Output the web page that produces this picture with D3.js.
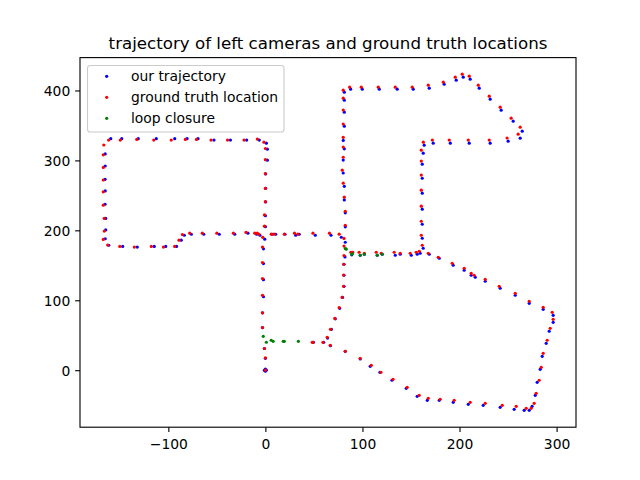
<!DOCTYPE html>
<html>
<head>
<meta charset="utf-8">
<script src="https://cdn.jsdelivr.net/npm/d3@7"></script>
<style>
  html, body { margin: 0; padding: 0; background: #fff; }
  svg { display: block; }
  text { font-family: "DejaVu Sans", sans-serif; fill: #000; }
</style>
</head>
<body>
<svg id="chart" width="640" height="480"></svg>
<script>
// ---------------- data ----------------
const titleText = "trajectory of left cameras and ground truth locations";
const seriesNames = ["our trajectory", "ground truth location", "loop closure"];
const seriesColors = ["#0000ff", "#ff0000", "#008000"];
const xTicks = [-100, 0, 100, 200, 300];
const yTicks = [0, 100, 200, 300, 400];

// our trajectory (blue)
const trajectory = [
  [0,0],[1,0],[-1,0],[0,1.4],[0,-1.4],[0,17],[-1,31],[-3,61],[-3,82],[-2,105],[-2,129.5],[-2,152.4],[-2,173.5],
  [0,205.3],[0,221],[0.2,240.6],[0.2,260.2],[0.2,280.7],[2,300.3],[2,316],[1,324.6],[-6.3,329],
  [-19.3,329],[-36,329],[-53,329],[-69.4,331],[-80.7,331],[-93.4,331],[-112.4,331],[-131,331],[-148,331],[-159.3,331],
  [-165,309.3],[-165,292],[-165.2,273],[-165,256.4],[-165.2,237.3],[-164.5,217],[-164.5,200.6],[-165,188],[-161.4,178.7],
  [-147,177],[-132,176],[-114.5,177],[-102.7,177],[-91.5,177],[-86.7,186],[-83.5,193],[-76.3,194.4],[-63.5,194.4],
  [-47.5,194.4],[-31.6,194.4],[-18,196],[-9,194.4],[-5.6,193],[-0.7,187.3],
  [7.1,194.4],[10.6,194.4],[20.2,194.4],[31.2,193],[34.9,194.4],[51.4,193],[67.6,193],[78.2,190.1],[82.3,183],[82,162],
  [81,151.5],[81,135.8],[81,120],[79.5,104],[76.5,88.5],[72,73.5],[68,58.5],[64,46],[67,35],[60,39.9],[49.5,39.9],
  [81.3,397.6],[81.3,386.1],[81.3,369],[81.3,349],[80.2,328.5],[81.3,316.5],[80.2,300.5],[80.2,282],[81.3,263],
  [81.3,243.5],[82.3,225],[82.3,205],
  [87.8,401.9],[99.8,401.9],[117.3,401.9],[135.8,401.9],[152.3,401.9],[168.8,403.3],[184.2,409],[196.6,414.7],
  [203.8,419],[211,416.1],[220.3,403.3],[231.6,387.5],[242.9,371.8],[255.3,356.1],[264.6,341.8],[262.5,331.8],
  [250.1,327.5],[231.6,324.6],[210,324.6],[190.5,324.6],[172.9,324.6],[163.6,321.8],
  [162.6,310.3],[161.6,294.6],[161.6,274.5],[161.6,253.1],[161.6,230.2],[161.6,208.7],[161.6,188.7],[162.6,174.4],
  [89,165],[97.7,164.4],[102,165.8],[115.2,164.4],[120.4,165.8],
  [133.8,164.4],[138.9,165.8],[150.3,164.4],[156.4,165.8],[159.5,167.2],[168.8,165.8],[179.1,160.1],[193.5,150.1],
  [204.8,142.9],[212,135.8],[216.2,132.9],[226.5,127.2],[241.9,117.2],[257.4,107.2],[271.8,95.7],[286.2,87.1],
  [296.5,78.5],[296.5,68.5],[292.4,55.7],[289.3,38.5],[285.2,19.9],[283.1,1.3],[280,-17.3],[278,-35.9],[274.8,-51.6],
  [271.8,-57.4],[266.6,-57.4],[256.3,-55.9],[241.9,-53.1],[224.4,-50.2],[209,-48.8],[193.5,-45.9],[179.1,-43.1],
  [166.8,-43.1],[156.4,-37.3],[145.1,-25.9],[130.4,-14.4],[118,-3],[108,5.6],[97.7,16],[82.3,27]
];

// ground truth location (red)
const groundTruth = [
  [0,0],[0,17.5],[-1,31],[-3,61],[-3,82],[-3,107],[-3,131],[-3,154],[-3,176],[-1,206],[-1,222],[0,241],[0,260],
  [0,281],[0,301],[0,317],[-1.5,326],[-8.3,330.5],
  [-22,329],[-39,329],[-56,329],[-71,330],[-82.5,330],[-97,329],[-115,329],[-132.5,330],[-149.5,329],[-161.5,329],
  [-166.5,322],[-167,308],[-167,290],[-167,272],[-167,255],[-167,236],[-166,217],[-166,199],[-167,187],[-162.5,179],
  [-150,177],[-135,176],[-117.5,177],[-105,176],[-93.5,177],[-89,186],[-85.5,194],[-78,196],[-65,196],[-50,196],
  [-33,196],[-20,197],[-11,196],[-8.3,196],[-6.6,194.4],[-2.8,190],
  [6,194.5],[9,194.5],[19.5,194.5],[30,196],[33.5,194.5],[49,196],[66,196],[76,194.5],[81,188.5],[81,177.5],[81,164],
  [80.6,151.5],[80.6,136],[80.6,120],[79,104],[76,89.5],[71.5,74],[67,58.5],[63.7,47],[66.8,35.6],[59.3,39.9],
  [49,39.9],[48.3,39.9],
  [80.2,400.4],[80.2,389],[80.2,372],[80.2,352],[80.2,333],[80.2,319],[80.2,304.5],[79.2,286],[80.2,267.5],
  [81.3,247.4],[82.3,227.3],[82.3,207.3],
  [86.8,404.7],[98.8,404.7],[116.3,404.7],[133.8,404.7],[151.3,404.7],[167.8,407.6],[183.3,411.9],[195.6,419],
  [202.8,423.3],[210,420.4],[219.3,407.6],[230.6,391.8],[241.9,376.1],[253.2,360.4],[262.5,347.5],[260.4,337.5],
  [249,332],[230.6,329],[209,329],[189.4,329],[172,329],[162.7,326],
  [160.6,314.6],[160.6,299],[160.6,279],[160.6,257.4],[160.6,234.5],[160.6,213],[160.6,193],[161.6,178.7],
  [88,168.7],[90,168.7],[96.5,168.7],[102,167.2],[114.2,168.7],[119.4,167.2],[132.7,168.7],[138.9,167.2],
  [149.2,167.2],[155.4,168.7],[158.6,170.1],[167.8,167.2],[178.1,161.5],[192.5,152.9],[204.8,145.8],[212,138.6],
  [215.1,135.8],[226.5,130],[240.9,120],[257.4,110],[271.8,98.6],[286.2,90],[295.5,82.8],[296.5,72.8],[293.4,59.9],
  [290.3,42.8],[286.2,24.2],[284.2,4.1],[282.1,-14.4],[279,-33],[276.9,-47.4],[273.8,-54.5],[268.7,-54.5],
  [258.4,-51.6],[244,-50.2],[226.5,-47.4],[211,-45.9],[194.5,-43.1],[180.1,-41.6],[167.8,-40.2],[158.5,-35.9],
  [146.1,-24.5],[131.5,-13],[119,-3],[109.1,7],[97.7,17],[82.3,27]
];

// loop closure (green)
const loopClosure = [
  [-2.2,48.5],[1,40],[6,42.8],[8,41.3],[18.4,41.3],[19.5,41.3],[34,41.3],
  [82.3,174],[83.3,173],[89,165.8],[89.6,166.7],[97.7,164.4],[102,165.8],[115.2,164.4],[120.4,165.8]
];

// ---------------- layout ----------------
const W = 640, H = 480;
const PT = 100 / 72; // px per point at dpi 100
const plot = { left: 80, right: 576, top: 57.6, bottom: 427.2 };
const xDomain = [-191, 320];
const yDomain = [-81.5, 447];

const svg = d3.select("#chart");
const x = d3.scaleLinear().domain(xDomain).range([plot.left, plot.right]);
const y = d3.scaleLinear().domain(yDomain).range([plot.bottom, plot.top]);

svg.append("rect").attr("width", W).attr("height", H).attr("fill", "#fff");

// points: blue, then red, then green
const series = [trajectory, groundTruth, loopClosure];
const plotG = svg.append("g");
series.forEach((data, i) => {
  plotG.append("g").selectAll("circle").data(data).join("circle")
    .attr("cx", d => x(d[0]))
    .attr("cy", d => y(d[1]))
    .attr("r", 1.6)
    .attr("fill", seriesColors[i]);
});

// axes
const tickLen = 3.5 * PT, pad = 3.5 * PT, fs = 10 * PT, lw = 0.8 * PT;
const xAxis = svg.append("g").attr("transform", `translate(0,${plot.bottom})`)
  .call(d3.axisBottom(x).tickValues(xTicks).tickSize(tickLen).tickPadding(pad).tickSizeOuter(0));
xAxis.select(".domain").remove();
xAxis.selectAll("line").attr("stroke", "#000").attr("stroke-width", lw);
xAxis.selectAll("text").attr("font-size", fs).attr("font-family", "DejaVu Sans")
  .attr("y", 22.2).attr("dy", 0);

const yAxis = svg.append("g").attr("transform", `translate(${plot.left},0)`)
  .call(d3.axisLeft(y).tickValues(yTicks).tickSize(tickLen).tickPadding(pad).tickSizeOuter(0));
yAxis.select(".domain").remove();
yAxis.selectAll("line").attr("stroke", "#000").attr("stroke-width", lw);
yAxis.selectAll("text").attr("font-size", fs).attr("font-family", "DejaVu Sans").attr("dy", "0.36em");

// spines
svg.append("rect")
  .attr("x", plot.left).attr("y", plot.top)
  .attr("width", plot.right - plot.left).attr("height", plot.bottom - plot.top)
  .attr("fill", "none").attr("stroke", "#000").attr("stroke-width", lw);

// title
svg.append("text")
  .attr("x", (plot.left + plot.right) / 2).attr("y", plot.top - 6 * PT)
  .attr("text-anchor", "middle").attr("font-size", 12 * PT)
  .text(titleText);

// legend
const leg = svg.append("g");
leg.append("rect")
  .attr("x", 87.5).attr("y", 65.5).attr("width", 196.5).attr("height", 66.5)
  .attr("rx", 2.8).attr("ry", 2.8)
  .attr("fill", "#fff").attr("fill-opacity", 0.8)
  .attr("stroke", "#cccccc").attr("stroke-width", lw);
seriesNames.forEach((name, i) => {
  const cy = 76.3 + i * 21;
  leg.append("circle").attr("cx", 106.7).attr("cy", cy).attr("r", 1.6).attr("fill", seriesColors[i]);
  leg.append("text").attr("x", 131).attr("y", cy + 5).attr("font-size", fs).text(name);
});
</script>
</body>
</html>
